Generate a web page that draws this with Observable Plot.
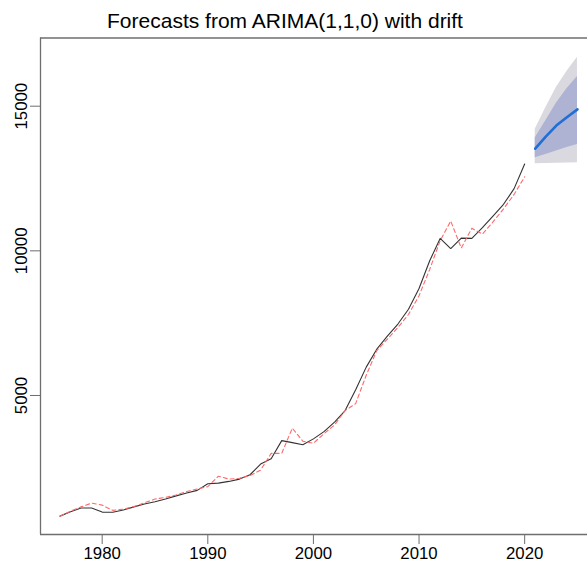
<!DOCTYPE html>
<html><head><meta charset="utf-8">
<script src="https://cdn.jsdelivr.net/npm/d3@7"></script>
<script src="https://cdn.jsdelivr.net/npm/@observablehq/plot@0.6"></script>
<style>
html,body{margin:0;padding:0;background:#fff;overflow:hidden;font-family:"Liberation Sans",Arial,sans-serif}
#title{height:30px;box-sizing:border-box;padding-top:10px;width:570px;text-align:center;font-size:21px;line-height:1;color:#000;white-space:nowrap}
</style></head><body>
<div id="title">Forecasts from ARIMA(1,1,0) with drift</div>
<div id="chart"></div>
<script>
const years = [1976,1977,1978,1979,1980,1981,1982,1983,1984,1985,1986,1987,1988,1989,1990,1991,1992,1993,1994,1995,1996,1997,1998,1999,2000,2001,2002,2003,2004,2005,2006,2007,2008,2009,2010,2011,2012,2013,2014,2015,2016,2017,2018,2019,2020];
const actual = [830,980,1110,1110,970,965,1040,1150,1250,1330,1420,1530,1630,1720,1950,1970,2030,2110,2260,2630,2810,3440,3370,3300,3500,3750,4080,4480,5200,5980,6600,7050,7470,7980,8700,9650,10430,10080,10440,10430,10800,11200,11610,12150,13000];
const fitted = [830,1000,1150,1280,1210,1030,1070,1160,1290,1420,1480,1560,1680,1770,1850,2210,2110,2140,2230,2420,3000,3000,3870,3420,3350,3680,3980,4480,4720,5700,6550,6950,7350,7800,8450,9350,10350,11030,10100,10780,10580,11000,11450,11950,12560];
const fcYears = [2021,2022,2023,2024,2025];
const fcMean = [13530,13950,14330,14620,14890];
const lo80 = [13220,13330,13450,13570,13680];
const hi80 = [13900,14500,15100,15600,16030];
const lo95 = [13010,13020,13030,13040,13045];
const hi95 = [14200,14950,15650,16200,16690];
const xTicks = [1980,1990,2000,2010,2020];
const yTicks = [5000,10000,15000];

const hist = years.map((year,i)=>({year, actual: actual[i], fitted: fitted[i]}));
const fc = fcYears.map((year,i)=>({year, mean: fcMean[i], lo80: lo80[i], hi80: hi80[i], lo95: lo95[i], hi95: hi95[i]}));

const xDom = [1974.16, 2025.95];
const yDom = [195, 17357];
const axisCol = "#6e6e6e";

const chart = Plot.plot({
  width: 587, height: 536,
  marginLeft: 40, marginRight: 0, marginTop: 7.5, marginBottom: 32,
  style: {fontFamily: "'Liberation Sans', Arial, sans-serif", fontSize: "16.8px", color: "#000", background: "#fff"},
  x: {domain: xDom, label: null},
  y: {domain: yDom, label: null},
  marks: [
    Plot.areaY(fc, {x: "year", y1: "lo95", y2: "hi95", fill: "#d9d9df"}),
    Plot.areaY(fc, {x: "year", y1: "lo80", y2: "hi80", fill: "#aeb2d3"}),
    Plot.line(fc, {x: "year", y: "mean", stroke: "#1f6fd4", strokeWidth: 2.6}),
    Plot.line(hist, {x: "year", y: "actual", stroke: "#333", strokeWidth: 1.1}),
    Plot.line(hist, {x: "year", y: "fitted", stroke: "#ff6a6a", strokeWidth: 1.1, strokeDasharray: "4,3"}),
    Plot.ruleX([xDom[0]], {stroke: axisCol, strokeWidth: 1.3}),
    Plot.ruleY(yDom, {stroke: axisCol, strokeWidth: 1.3}),
    Plot.axisX({ticks: xTicks, tickSize: 10, tickPadding: 3, tickFormat: d => String(d), stroke: axisCol, fill: "#000", label: null}),
    Plot.axisY({ticks: yTicks, tickSize: 10, tickPadding: 4, tickRotate: -90, tickFormat: d => String(d), stroke: axisCol, fill: "#000", label: null})
  ]
});
document.getElementById("chart").appendChild(chart);
</script>
</body></html>
